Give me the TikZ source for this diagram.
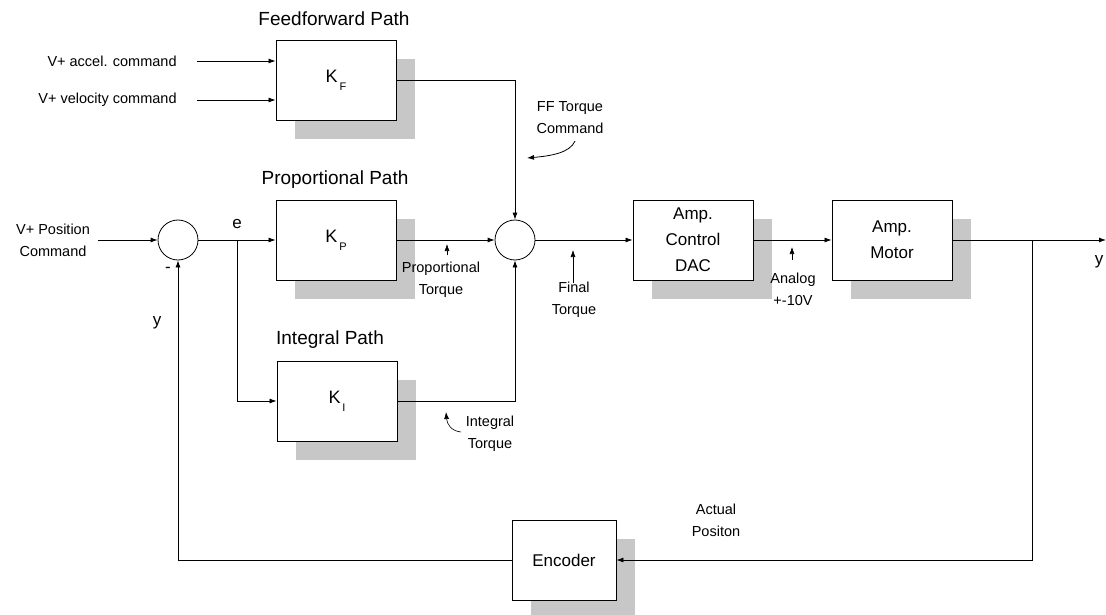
\documentclass[tikz,border=0pt]{standalone}
\usepackage{fontspec}
\setmainfont{Liberation Sans}
\usetikzlibrary{arrows.meta,shadows,calc}
\begin{document}
\begin{tikzpicture}[x=1pt,y=-1pt,
  line width=0.8pt,
  arr/.style={-{Latex[length=7pt,width=5pt]}},
  blk/.style={draw, fill=white, line width=0.9pt, minimum width=120pt, minimum height=80pt,
    align=center, font=\fontsize{17}{26}\selectfont,
    drop shadow={shadow xshift=19pt, shadow yshift=-19pt, fill=black!22, opacity=1}},
  sumnode/.style={draw, circle, fill=white, minimum size=40pt, inner sep=0pt},
  small/.style={font=\fontsize{14.5}{22}\selectfont, align=center, inner sep=0pt},
  pathlbl/.style={font=\fontsize{19}{22}\selectfont, inner sep=0pt},
  gain/.style={font=\fontsize{18}{20}\selectfont}
]
\useasboundingbox (0,0) rectangle (1106,615);

% blocks
\node[blk] (KF) at (336,80) {};
\node[gain] at (KF) {K\raisebox{-0.45em}{\fontsize{11}{11}\selectfont\,F}};
\node[blk] (KP) at (336,240) {};
\node[gain] at (KP) {K\raisebox{-0.45em}{\fontsize{11}{11}\selectfont\,P}};
\node[blk] (KI) at (337,401) {};
\node[gain] at (KI) {K\raisebox{-0.45em}{\fontsize{11}{11}\selectfont\,I}};
\node[blk] (DAC) at (693,240) {Amp.\\Control\\DAC};
\node[blk] (MOT) at (892,240) {Amp.\\Motor};
\node[blk, minimum width=104pt] (ENC) at (564,560) {Encoder};

% summing junctions
\node[sumnode] (S1) at (178,240) {};
\node[sumnode] (S2) at (515,240) {};

% path labels
\node[pathlbl] (lff) at (334,19) {Feedforward Path};
\node[pathlbl] (lpp) at (335,180) {Proportional Path};
\node[pathlbl] (lip) at (330,340) {Integral Path};

% inputs
\node[small, anchor=east] (acc) at (177,61) {V+ accel. command};
\node[small, anchor=east] (vel) at (177,100) {V+ velocity command};
\node[small] (pos) at (53,240) {V+ Position\\Command};

\draw[arr] ([xshift=20pt]acc.east) -- (acc.east -| KF.west);
\draw[arr] ([xshift=20pt]vel.east) -- (vel.east -| KF.west);
\draw[arr] ([xshift=8pt]pos.east) -- (S1.west);

% error and branches
\coordinate (eb) at (237,240);
\node[font=\fontsize{17}{20}\selectfont, inner sep=0pt] (elbl) at (237,224) {e};
\draw[arr] (S1.east) -- (KP.west);
\draw[arr] (eb) |- (KI.west);

% into second sum
\draw[arr] (KF.east) -| (S2.north);
\draw[arr] (KP.east) -- (S2.west);
\draw[arr] (KI.east) -| (S2.south);

% forward path
\draw[arr] (S2.east) -- (DAC.west);
\draw[arr] (DAC.east) -- (MOT.west);
\coordinate (yout) at (1106,240);
\draw[arr] (MOT.east) -- (yout);
\node[font=\fontsize{17}{20}\selectfont, inner sep=0pt] (yr) at (1099,262) {y};

% feedback
\coordinate (fb) at (1032,240);
\draw[arr] (fb) |- (ENC.east);
\draw[arr] (ENC.west) -| (S1.south);
\node[font=\fontsize{17}{20}\selectfont, inner sep=0pt] (minus) at (168,270) {-};
\node[font=\fontsize{17}{20}\selectfont, inner sep=0pt] (ylbl) at (157,323) {y};

% annotations
\node[small] (fft) at (570,118) {FF Torque\\Command};
\coordinate (ffa) at (575,141);
\coordinate (ffb) at (527,158);
\draw[arr] (ffa) .. controls (570,153) and (550,156) .. (ffb);

\node[small] (pt) at (441,280) {Proportional\\Torque};
\coordinate (pta) at (447,255);
\coordinate (ptb) at (447,244);
\draw[arr, line width=0.6pt] (pta) -- (ptb);

\node[small] (ft) at (574,300) {Final\\Torque};
\coordinate (fta) at (573,283);
\coordinate (ftb) at (573,250);
\draw[arr, line width=0.6pt] (fta) -- (ftb);

\node[small] (an) at (793,289) {Analog\\+-10V};
\coordinate (ana) at (792,260);
\coordinate (anb) at (792,247);
\draw[arr, line width=0.6pt] (ana) -- (anb);

\node[small] (it) at (490,434) {Integral\\Torque};
\coordinate (ita) at (461,432);
\coordinate (itb) at (446,412);
\draw[arr, line width=0.6pt] (ita) .. controls (451,431) and (447,424) .. (itb);

\node[small] (ap) at (716,520) {Actual\\Positon};
\end{tikzpicture}
\end{document}
